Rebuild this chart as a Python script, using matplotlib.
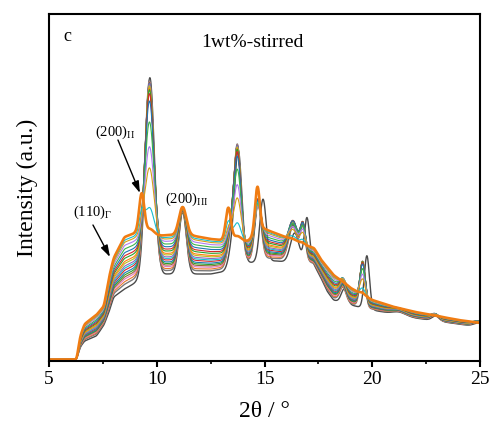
import numpy as np
import matplotlib
matplotlib.use("Agg")
import matplotlib.pyplot as plt
from matplotlib.ticker import MultipleLocator

# ---------------- data (intensity in arbitrary units) -------------
# amorphous halo / background anchors for the first scan and the last scan
halo_x = [5.0, 6.28, 6.45, 6.65, 7.2, 7.55, 7.8, 8.0, 8.5, 9.0, 9.6, 10.5, 11.5, 12.5, 13.5,
          14.2, 15.0, 15.6, 16.3, 17.0, 17.3, 17.6, 17.9, 18.2, 19.0, 20.0, 21.0, 22.0,
          23.0, 24.0, 25.0]
halo_first = [1.5, 1.5, 14, 20, 25, 36, 50, 64, 72, 78, 84, 87, 87, 87, 91,
              98, 100, 100, 98, 98, 96, 84, 70, 61, 56, 51, 47, 43, 40, 37, 34]
halo_last = [1.5, 1.5, 25, 37, 46, 55, 85, 103, 124, 128, 124, 126, 126, 122, 120,
             120, 132, 127, 121, 115, 113, 102, 94, 86, 73, 61, 54, 49, 45, 41, 38]
# share of the last-scan halo in each scan
halo_frac = [0.0, 0.09, 0.14, 0.19, 0.23, 0.27, 0.31, 0.36, 0.40, 0.44,
             0.49, 0.53, 0.59, 0.64, 0.70, 0.77, 0.84, 0.90, 0.94, 1.0]

# crystalline reflections: position (first scan), position (other scans),
# height (first scan), height (other scans), width
cryst_pos_first = [9.68, 13.45, 13.78, 14.93, 16.40, 16.97, 18.70, 19.75, 21.25, 22.95, 24.95]
cryst_pos = [9.66, 13.40, 13.74, 14.70, 16.32, 16.78, 18.64, 19.55, 21.20, 22.90, 24.90]
cryst_h_first = [199, 15, 116, 62, 30, 45, 14, 53, 3, 5, 4]
cryst_h = [197, 22, 122, 56, 35, 34, 14, 46, 3, 5, 4]
cryst_w = [0.21, 0.15, 0.17, 0.15, 0.20, 0.12, 0.14, 0.12, 0.30, 0.17, 0.22]
cryst_frac = [1.00, 0.98, 0.96, 0.95, 0.94, 0.92, 0.92, 0.90, 0.89, 0.89,
              0.87, 0.85, 0.83, 0.80, 0.75, 0.63, 0.49, 0.37, 0.16, 0.04]

# (200)III reflection at 11.2 deg, height per scan
p200III_pos = 11.2
p200III_w = 0.17
p200III_h = [62, 60, 57, 56, 55, 53, 52, 50, 49, 48, 46, 44, 42, 41, 39, 36, 33, 32, 30, 28]

# new-phase reflections (height in the last scan) and their share per scan
new_pos = [9.30, 13.32, 14.67]
new_h = [40, 32, 45]
new_w = [0.12, 0.12, 0.11]
new_frac = [0, 0, 0, 0, 0, 0, 0, 0, 0, 0, 0, 0, 0, 0, 0, 0.04, 0.10, 0.25, 0.55, 1.0]

colors = ['#4a4a4a', '#7a7a7a', '#e8762c', '#e377c2', '#8c6d31', '#2ca02c', '#1f77b4',
          '#d62728', '#17becf', '#9467bd', '#bcbd22', '#ff7f0e', '#2ca02c', '#d62728',
          '#1f77b4', '#3cb44b', '#b07cf0', '#d4a017', '#17becf', '#f07c12']

tick_vals = [5, 10, 15, 20, 25]

# ---------------- build curves ----------------
x = np.linspace(5, 25, 2001)
dx = x[1] - x[0]
ker_x = np.arange(-0.15, 0.15 + dx / 2, dx)
ker = np.exp(-0.5 * (ker_x / 0.04) ** 2)
ker /= ker.sum()


def smooth(y):
    pad = len(ker) // 2
    yp = np.concatenate([np.full(pad, y[0]), y, np.full(pad, y[-1])])
    return np.convolve(yp, ker, mode='valid')


def gauss(p, h, w):
    return h * np.exp(-0.5 * ((x - p) / w) ** 2)


hf = smooth(np.interp(x, halo_x, halo_first))
hl = smooth(np.interp(x, halo_x, halo_last))

plt.rcParams['font.family'] = ['Liberation Serif', 'DejaVu Serif']
plt.rcParams['mathtext.fontset'] = 'custom'
plt.rcParams['mathtext.rm'] = 'Liberation Serif'
plt.rcParams['mathtext.it'] = 'Liberation Serif:italic'

fig = plt.figure(figsize=(4.94, 4.28), dpi=100)
ax = fig.add_axes([0.0992, 0.1565, 0.8725, 0.8108])

n = len(halo_frac)
for i in range(n):
    y = hf + halo_frac[i] * (hl - hf)
    pos = cryst_pos_first if i == 0 else cryst_pos
    hts = cryst_h_first if i == 0 else cryst_h
    for p, h, w in zip(pos, hts, cryst_w):
        y = y + gauss(p, h * cryst_frac[i], w)
    y = y + gauss(p200III_pos, p200III_h[i], p200III_w)
    for p, h, w in zip(new_pos, new_h, new_w):
        y = y + gauss(p, h * new_frac[i], w)
    lw = 1.9 if i == n - 1 else (1.0 if i < 2 else 0.8)
    ax.plot(x, y, color=colors[i], lw=lw, zorder=2 + i * 0.01)

ax.set_xlim(5, 25)
ax.set_ylim(0, 347)
ax.set_yticks([])
ax.set_xticks(tick_vals)
ax.xaxis.set_minor_locator(MultipleLocator(2.5))
ax.tick_params(axis='x', which='major', direction='out', length=4.5, width=1.5,
               labelsize=14, pad=3, top=False)
ax.tick_params(axis='x', which='minor', direction='out', length=2.5, width=1.2, top=False)
for s in ax.spines.values():
    s.set_linewidth(1.5)

ax.set_xlabel('2θ / °', fontsize=17, labelpad=9)
ax.set_ylabel('Intensity (a.u.)', fontsize=17, labelpad=8)

ax.text(5.65, 324, 'c', fontsize=13, va='center', ha='left')
ax.text(14.42, 318, '1wt%-stirred', fontsize=14, va='center', ha='center')

ax.text(7.13, 229, r'(200)$_{\rm II}$', fontsize=10.5, va='center', ha='left')
ax.text(10.38, 162, r'(200)$_{\rm III}$', fontsize=10.5, va='center', ha='left')
ax.text(6.11, 149, r'(110)$_{\Gamma}$', fontsize=10.5, va='center', ha='left')

arrow = dict(arrowstyle='-|>,head_length=0.7,head_width=0.22', color='black', lw=1.0,
             shrinkA=0, shrinkB=0)
ax.annotate('', xy=(9.22, 168), xytext=(8.20, 221), arrowprops=arrow)
ax.annotate('', xy=(7.83, 104), xytext=(7.04, 136), arrowprops=arrow)

fig.savefig('out.png', dpi=100)
